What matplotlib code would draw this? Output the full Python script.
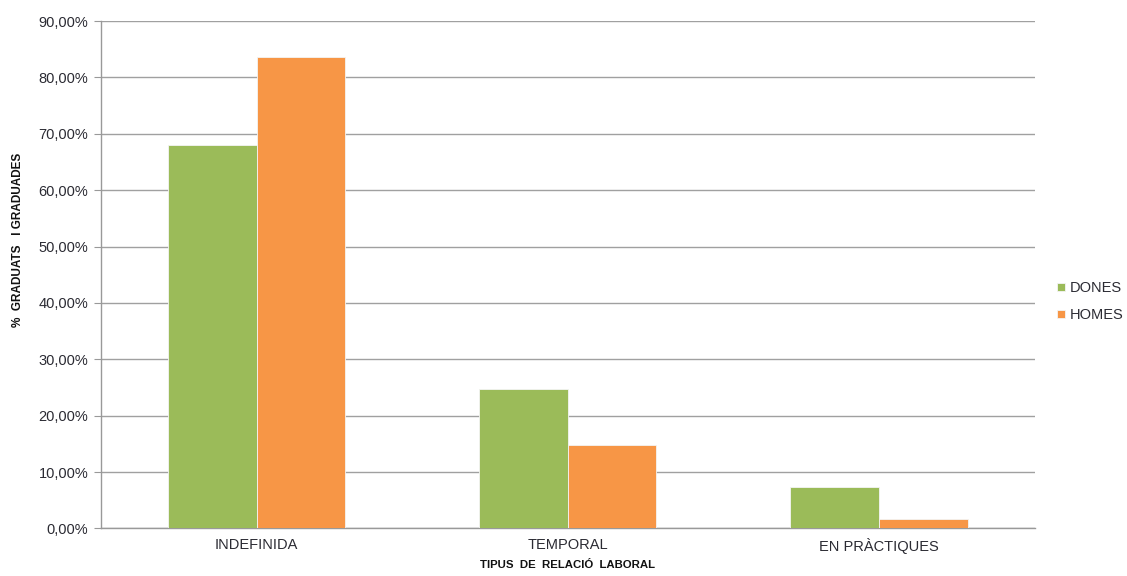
import matplotlib
matplotlib.use("Agg")
import matplotlib.pyplot as plt
from matplotlib import font_manager
import numpy as np
from matplotlib.ticker import FuncFormatter, MultipleLocator

categories = ["INDEFINIDA", "TEMPORAL", "EN PRÀCTIQUES"]
dones = [68.1, 24.7, 7.3]
homes = [83.6, 14.8, 1.7]
series_names = ["DONES", "HOMES"]
colors = ["#9BBB59", "#F79646"]

plt.rcParams["font.family"] = ["Liberation Sans", "DejaVu Sans"]

installed = {f.name for f in font_manager.fontManager.ttflist}
title_family = ["Liberation Sans Narrow", "Liberation Sans"] if "Liberation Sans Narrow" in installed \
    else ["Liberation Sans"]

fig = plt.figure(figsize=(11.27, 5.76), dpi=100)
ax = fig.add_axes([0.0896, 0.0825, 0.8284, 0.881])

x = np.arange(len(categories))
w = 0.285
ax.bar(x - w / 2, dones, w, color=colors[0], edgecolor="#f4f4f4", linewidth=0.6,
       label=series_names[0], zorder=3)
ax.bar(x + w / 2, homes, w, color=colors[1], edgecolor="#f4f4f4", linewidth=0.6,
       label=series_names[1], zorder=3)

ax.set_xlim(-0.5, len(categories) - 0.5)
ax.set_ylim(0, 90)
ax.yaxis.set_major_locator(MultipleLocator(10))
ax.yaxis.set_major_formatter(FuncFormatter(lambda v, p: f"{v:.2f}".replace(".", ",") + "%"))
ax.set_xticks(x)
ax.set_xticklabels(categories)

ax.grid(axis="y", color="#a0a0a0", linewidth=1.0, zorder=0)
ax.set_axisbelow(True)
for s in ["top", "right"]:
    ax.spines[s].set_visible(False)
for s in ["left", "bottom"]:
    ax.spines[s].set_color("#999999")
    ax.spines[s].set_linewidth(1.0)

ax.tick_params(axis="y", length=5, color="#999999", labelsize=10.5, labelcolor="#2b2b33", pad=4)
ax.tick_params(axis="x", length=0, labelsize=10.5, labelcolor="#2b2b33", pad=7)

# axis titles placed in figure coordinates
fig.text(18 / 1127, 1 - 240 / 576, "%  GRADUATS   I GRADUADES", rotation=90,
         ha="center", va="center", fontsize=8.5, fontweight="bold",
         color="#111111", family=title_family)
fig.text(567 / 1127, 1 - 565 / 576, "TIPUS  DE  RELACIÓ  LABORAL",
         ha="center", va="center", fontsize=8.2, fontweight="bold",
         color="#111111", family=title_family)

leg = ax.legend(loc="center left", bbox_to_anchor=(1.01, 0.447), frameon=False,
                fontsize=10.5, handlelength=0.55, handleheight=0.55, handletextpad=0.3,
                labelspacing=0.9)
for t in leg.get_texts():
    t.set_color("#2b2b33")

fig.savefig("out.png", dpi=100)
